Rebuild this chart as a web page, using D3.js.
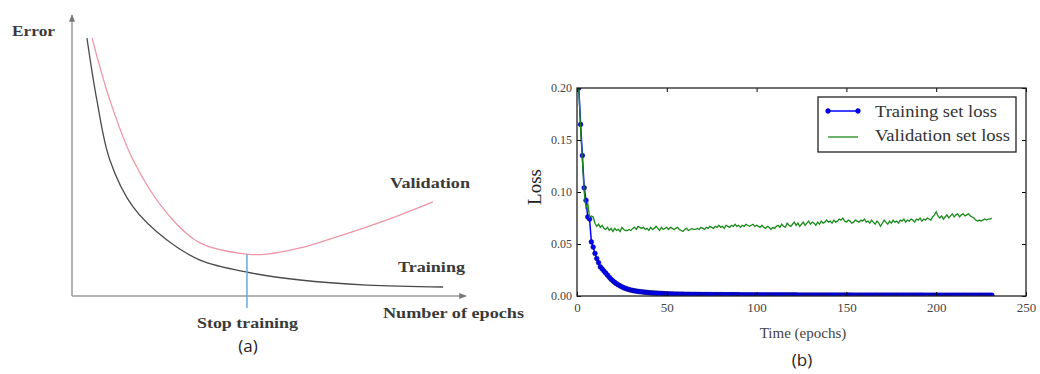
<!DOCTYPE html>
<html>
<head>
<meta charset="utf-8">
<script src="https://cdn.jsdelivr.net/npm/d3@7"></script>
<style>
  body { margin: 0; background: #fff; }
  svg { display: block; }
</style>
</head>
<body>
<div id="chart"></div>
<script>
// panel (a): schematic curves, abstract units (x 0-10, y 0-10)
const schemTrainX = [0.38, 0.63, 0.96, 1.55, 2.41, 3.25, 4.44, 5.79, 7.49, 9.42];
const schemTrainY = [9.18, 6.98, 4.84, 3.17, 1.99, 1.28, 0.85, 0.57, 0.39, 0.32];
const schemValX = [0.51, 0.96, 1.55, 2.41, 3.25, 4.44, 4.95, 5.79, 6.62, 7.49, 8.32, 9.16];
const schemValY = [9.18, 6.98, 4.84, 2.95, 1.89, 1.49, 1.49, 1.71, 2.06, 2.46, 2.88, 3.35];
const stopEpoch = 4.44;
const stopError = 1.49;
const labelsA = [
  { text: 'Error', x: 12, y: 36, w: 43 },
  { text: 'Validation', x: 390, y: 188, w: 80 },
  { text: 'Training', x: 398, y: 272, w: 67 },
  { text: 'Stop training', x: 197, y: 328, w: 101 },
  { text: 'Number of epochs', x: 383, y: 318, w: 141 }
];

// panel (b): loss per epoch
const trainLoss = [
  0.250, 0.200, 0.165, 0.135, 0.104, 0.092, 0.076, 0.074, 0.052, 0.047,
  0.041, 0.036, 0.032, 0.028, 0.026, 0.024, 0.022, 0.020, 0.018, 0.016,
  0.0145, 0.013, 0.0118, 0.0107, 0.0097, 0.0088, 0.0080, 0.0073, 0.0067, 0.0062,
  0.0057, 0.0053, 0.0050, 0.0047, 0.0044, 0.0042, 0.0040, 0.0038, 0.0036, 0.0034,
  0.0032, 0.0030, 0.0029, 0.0028, 0.0027, 0.0026, 0.0025, 0.0024, 0.0023, 0.0022,
  0.0021, 0.0020, 0.0019, 0.0019, 0.0018, 0.0018, 0.0018, 0.0017, 0.0017, 0.0017,
  0.0016, 0.0016, 0.0016, 0.0016, 0.0015, 0.0015, 0.0015, 0.0015, 0.0015, 0.0014,
  0.0014, 0.0014, 0.0014, 0.0014, 0.0014, 0.0013, 0.0013, 0.0013, 0.0013, 0.0013,
  0.0013, 0.0013, 0.0012, 0.0012, 0.0012, 0.0012, 0.0012, 0.0012, 0.0012, 0.0012,
  0.0012, 0.0011, 0.0011, 0.0011, 0.0011, 0.0011, 0.0011, 0.0011, 0.0011, 0.0011,
  0.0011, 0.0011, 0.0010, 0.0010, 0.0010, 0.0010, 0.0010, 0.0010, 0.0010, 0.0010,
  0.0010, 0.0010, 0.0010, 0.0010, 0.0010, 0.0010, 0.0010, 0.0010, 0.0010, 0.0010,
  0.0010, 0.0010, 0.0010, 0.0009, 0.0009, 0.0009, 0.0009, 0.0009, 0.0009, 0.0009,
  0.0009, 0.0009, 0.0009, 0.0009, 0.0009, 0.0009, 0.0009, 0.0009, 0.0009, 0.0009,
  0.0009, 0.0009, 0.0009, 0.0009, 0.0009, 0.0009, 0.0009, 0.0009, 0.0009, 0.0009,
  0.0009, 0.0009, 0.0009, 0.0009, 0.0008, 0.0008, 0.0008, 0.0008, 0.0008, 0.0008,
  0.0008, 0.0008, 0.0008, 0.0008, 0.0008, 0.0008, 0.0008, 0.0008, 0.0008, 0.0008,
  0.0008, 0.0008, 0.0008, 0.0008, 0.0008, 0.0008, 0.0008, 0.0008, 0.0008, 0.0008,
  0.0008, 0.0008, 0.0008, 0.0008, 0.0008, 0.0008, 0.0008, 0.0008, 0.0008, 0.0008,
  0.0008, 0.0008, 0.0008, 0.0007, 0.0007, 0.0007, 0.0007, 0.0007, 0.0007, 0.0007,
  0.0007, 0.0007, 0.0007, 0.0007, 0.0007, 0.0007, 0.0007, 0.0007, 0.0007, 0.0007,
  0.0007, 0.0007, 0.0007, 0.0007, 0.0007, 0.0007, 0.0007, 0.0007, 0.0007, 0.0007,
  0.0007, 0.0007, 0.0007, 0.0007, 0.0007, 0.0007, 0.0007, 0.0007, 0.0007, 0.0007,
  0.0007, 0.0007
];
const valLoss = [
  0.250, 0.200, 0.160, 0.130, 0.100, 0.085, 0.089, 0.076, 0.077, 0.076,
  0.070, 0.067, 0.069, 0.066, 0.068, 0.065, 0.064, 0.066, 0.063, 0.065,
  0.062, 0.065, 0.063, 0.064, 0.062, 0.066, 0.064, 0.063, 0.063, 0.064,
  0.063, 0.065, 0.066, 0.064, 0.067, 0.066, 0.065, 0.066, 0.064, 0.065,
  0.063, 0.066, 0.064, 0.065, 0.067, 0.065, 0.063, 0.066, 0.064, 0.065,
  0.066, 0.064, 0.066, 0.065, 0.064, 0.065, 0.066, 0.064, 0.063, 0.062,
  0.064, 0.065, 0.063, 0.064, 0.065, 0.064, 0.064, 0.065, 0.064, 0.066,
  0.065, 0.064, 0.066, 0.065, 0.067, 0.066, 0.065, 0.067, 0.066, 0.068,
  0.066, 0.067, 0.065, 0.068, 0.067, 0.066, 0.068, 0.067, 0.069, 0.067,
  0.068, 0.066, 0.068, 0.067, 0.069, 0.068, 0.067, 0.068, 0.069, 0.067,
  0.068, 0.067, 0.066, 0.068, 0.066, 0.065, 0.067, 0.066, 0.064, 0.066,
  0.065, 0.067, 0.068, 0.066, 0.069, 0.067, 0.066, 0.070, 0.068, 0.067,
  0.069, 0.071, 0.068, 0.070, 0.067, 0.069, 0.071, 0.068, 0.070, 0.072,
  0.069, 0.071, 0.070, 0.068, 0.071, 0.069, 0.072, 0.070, 0.071, 0.073,
  0.071, 0.072, 0.070, 0.073, 0.071, 0.072, 0.074, 0.073, 0.075, 0.072,
  0.071, 0.073, 0.072, 0.070, 0.071, 0.073, 0.072, 0.071, 0.073, 0.072,
  0.074, 0.071, 0.072, 0.070, 0.073, 0.071, 0.069, 0.072, 0.070, 0.067,
  0.070, 0.073, 0.071, 0.069, 0.072, 0.070, 0.073, 0.071, 0.072, 0.070,
  0.073, 0.072, 0.074, 0.071, 0.073, 0.072, 0.074, 0.073, 0.071, 0.074,
  0.073, 0.075, 0.072, 0.074, 0.073, 0.075, 0.074, 0.073, 0.076, 0.078,
  0.081, 0.077, 0.075, 0.077, 0.074, 0.076, 0.078, 0.075, 0.077, 0.079,
  0.076, 0.078, 0.079, 0.076, 0.078, 0.079, 0.077, 0.078, 0.079, 0.077,
  0.076, 0.075, 0.073, 0.072, 0.073, 0.072, 0.073, 0.074, 0.073, 0.074,
  0.074, 0.075
];
const xTicksB = [0, 50, 100, 150, 200, 250];
const yTicksB = [0, 0.05, 0.10, 0.15, 0.20];
const legendLabels = ['Training set loss', 'Validation set loss'];
const legendWidths = [122, 135];

const svg = d3.select('#chart').append('svg')
  .attr('width', 1040)
  .attr('height', 374);

svg.append('rect').attr('width', 1040).attr('height', 374).attr('fill', '#fff');

// ---------- panel (a) ----------
const ax = d3.scaleLinear().domain([0, 10]).range([72, 466]);
const ay = d3.scaleLinear().domain([0, 10]).range([296, 15]);
const axisColor = '#9a9a9a';

const defs = svg.append('defs');
defs.append('marker')
  .attr('id', 'arrow')
  .attr('viewBox', '0 0 10 10')
  .attr('refX', 9).attr('refY', 5)
  .attr('markerWidth', 5).attr('markerHeight', 5)
  .attr('orient', 'auto')
  .append('path')
  .attr('d', 'M0,1 L10,5 L0,9 z')
  .attr('fill', '#777');

svg.append('line')
  .attr('x1', ax(0)).attr('y1', ay(0))
  .attr('x2', ax(0)).attr('y2', ay(10))
  .attr('stroke', axisColor).attr('stroke-width', 1.5)
  .attr('marker-end', 'url(#arrow)');
svg.append('line')
  .attr('x1', ax(0)).attr('y1', ay(0))
  .attr('x2', ax(10)).attr('y2', ay(0))
  .attr('stroke', axisColor).attr('stroke-width', 1.5)
  .attr('marker-end', 'url(#arrow)');

const schemLine = d3.line()
  .x(d => ax(d[0]))
  .y(d => ay(d[1]))
  .curve(d3.curveCatmullRom);

svg.append('path')
  .datum(schemValX.map((x, i) => [x, schemValY[i]]))
  .attr('d', schemLine)
  .attr('fill', 'none')
  .attr('stroke', '#eb97a8')
  .attr('stroke-width', 1.3);

svg.append('path')
  .datum(schemTrainX.map((x, i) => [x, schemTrainY[i]]))
  .attr('d', schemLine)
  .attr('fill', 'none')
  .attr('stroke', '#4a4a4a')
  .attr('stroke-width', 1.3);

svg.append('line')
  .attr('x1', ax(stopEpoch)).attr('y1', ay(stopError))
  .attr('x2', ax(stopEpoch)).attr('y2', ay(-0.43))
  .attr('stroke', '#6aa6dc').attr('stroke-width', 1.5);

svg.selectAll('text.lblA')
  .data(labelsA)
  .enter().append('text')
  .attr('class', 'lblA')
  .attr('x', d => d.x)
  .attr('y', d => d.y)
  .attr('textLength', d => d.w)
  .attr('lengthAdjust', 'spacingAndGlyphs')
  .style('font', 'bold 15px "Liberation Serif", "DejaVu Serif", serif')
  .attr('fill', '#3a3a3a')
  .text(d => d.text);

svg.append('text').attr('x', 248).attr('y', 352).attr('text-anchor', 'middle')
  .style('font', '17px "Open Sans", "DejaVu Sans", sans-serif').attr('fill', '#222').text('(a)');

// ---------- panel (b) ----------
const bx = d3.scaleLinear().domain([0, 250]).range([577, 1026]);
const by = d3.scaleLinear().domain([0, 0.20]).range([296, 88]);
const serif = '"Liberation Serif", "DejaVu Serif", serif';

defs.append('clipPath').attr('id', 'plotB')
  .append('rect')
  .attr('x', 577).attr('y', 88).attr('width', 449).attr('height', 208);

const plot = svg.append('g').attr('clip-path', 'url(#plotB)');

const lossLine = d3.line()
  .x((d, i) => bx(i))
  .y(d => by(d));

plot.append('path')
  .datum(trainLoss)
  .attr('d', lossLine)
  .attr('fill', 'none')
  .attr('stroke', '#0000ff')
  .attr('stroke-width', 1.5);

plot.selectAll('circle.train')
  .data(trainLoss)
  .enter().append('circle')
  .attr('class', 'train')
  .attr('cx', (d, i) => bx(i))
  .attr('cy', d => by(d))
  .attr('r', 2.4)
  .attr('fill', '#0000ff')
  .attr('stroke', '#00007a')
  .attr('stroke-width', 0.5);

plot.append('path')
  .datum(valLoss)
  .attr('d', lossLine)
  .attr('fill', 'none')
  .attr('stroke', '#1a8a1a')
  .attr('stroke-width', 1.3);

// axes with inward ticks on all four sides
const tickLen = 4;
svg.append('g')
  .attr('transform', 'translate(0,296)')
  .call(d3.axisBottom(bx).tickValues(xTicksB).tickSize(-tickLen).tickPadding(7).tickFormat(d3.format('d')))
  .call(g => g.select('.domain').remove())
  .call(g => g.selectAll('text').style('font', '13px ' + serif).attr('fill', '#444'));
svg.append('g')
  .attr('transform', 'translate(0,88)')
  .call(d3.axisTop(bx).tickValues(xTicksB).tickSize(-tickLen).tickFormat(''))
  .call(g => g.select('.domain').remove());
svg.append('g')
  .attr('transform', 'translate(577,0)')
  .call(d3.axisLeft(by).tickValues(yTicksB).tickSize(-tickLen).tickPadding(5).tickFormat(d3.format('.2f')))
  .call(g => g.select('.domain').remove())
  .call(g => g.selectAll('text').style('font', '12px ' + serif).attr('fill', '#444'));
svg.append('g')
  .attr('transform', 'translate(1026,0)')
  .call(d3.axisRight(by).tickValues(yTicksB).tickSize(-tickLen).tickFormat(''))
  .call(g => g.select('.domain').remove());

svg.append('rect')
  .attr('x', 577).attr('y', 88).attr('width', 449).attr('height', 208)
  .attr('fill', 'none').attr('stroke', '#222').attr('stroke-width', 1.3);

svg.append('text')
  .attr('x', 803).attr('y', 338).attr('text-anchor', 'middle')
  .style('font', '15px ' + serif).attr('fill', '#444').text('Time (epochs)');
svg.append('text')
  .attr('transform', 'translate(541,187) rotate(-90)')
  .attr('text-anchor', 'middle')
  .style('font', '19px ' + serif).attr('fill', '#222').text('Loss');
svg.append('text').attr('x', 802).attr('y', 366).attr('text-anchor', 'middle')
  .style('font', '17px "Open Sans", "DejaVu Sans", sans-serif').attr('fill', '#222').text('(b)');

// legend
const legend = svg.append('g').attr('transform', 'translate(818,97)');
legend.append('rect')
  .attr('width', 198).attr('height', 55)
  .attr('fill', '#fff').attr('stroke', '#222').attr('stroke-width', 1.3);
legend.append('line')
  .attr('x1', 10).attr('x2', 40).attr('y1', 14).attr('y2', 14)
  .attr('stroke', '#0000ff').attr('stroke-width', 1.5);
[10, 40].forEach(x => legend.append('circle')
  .attr('cx', x).attr('cy', 14).attr('r', 2.4)
  .attr('fill', '#0000ff').attr('stroke', '#00007a').attr('stroke-width', 0.5));
legend.append('line')
  .attr('x1', 10).attr('x2', 40).attr('y1', 40).attr('y2', 40)
  .attr('stroke', '#1a8a1a').attr('stroke-width', 1.3);
legend.selectAll('text.lg')
  .data(legendLabels)
  .enter().append('text')
  .attr('class', 'lg')
  .attr('x', 57)
  .attr('y', (d, i) => 20 + i * 24)
  .attr('textLength', (d, i) => legendWidths[i])
  .attr('lengthAdjust', 'spacingAndGlyphs')
  .style('font', '17px ' + serif)
  .attr('fill', '#333')
  .text(d => d);
</script>
</body>
</html>
